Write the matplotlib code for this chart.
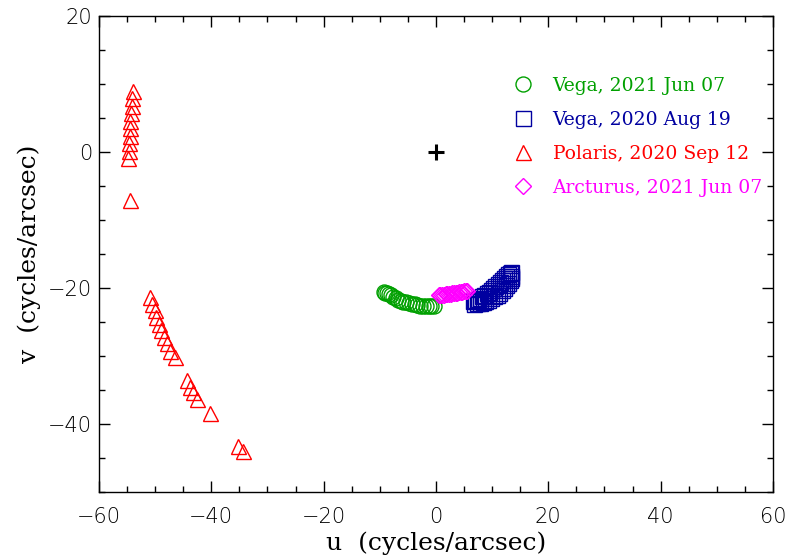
import matplotlib
matplotlib.use("Agg")
import matplotlib.pyplot as plt
from matplotlib.ticker import MultipleLocator

# uv coverage points (cycles/arcsec)
vega21_u = [-9.3, -9.0, -8.7, -8.4, -8.0, -7.6, -7.2, -6.8, -6.3, -5.8, -5.3,
            -4.8, -4.3, -3.8, -3.3, -2.8, -2.3, -1.8, -1.3, -0.8, -0.4]
vega21_v = [-20.6, -20.7, -20.8, -20.9, -21.1, -21.3, -21.5, -21.7, -21.9, -22.0, -22.1,
            -22.2, -22.3, -22.4, -22.5, -22.6, -22.6, -22.7, -22.7, -22.7, -22.7]

vega20_u = [6.6, 7.0, 7.4, 7.8, 8.2, 8.6, 9.0, 9.4, 9.8, 10.2, 10.6, 11.0, 11.4, 11.8, 12.1, 12.5, 12.8, 13.1, 13.4,
            6.8, 7.3, 7.8, 8.3, 8.8, 9.3, 9.8, 10.3, 10.8, 11.3, 11.7, 12.1, 12.5, 12.8, 13.1, 13.3, 13.4]
vega20_v = [-21.9, -21.8, -21.6, -21.4, -21.2, -21.0, -20.8, -20.6, -20.3, -20.0, -19.7, -19.4, -19.1, -18.8, -18.5, -18.2, -18.0, -17.8, -17.7,
            -22.3, -22.25, -22.2, -22.05, -21.9, -21.7, -21.5, -21.25, -21.0, -20.7, -20.3, -20.0, -19.6, -19.2, -18.8, -18.5, -18.2]

polaris_u = [-54.0, -54.1, -54.2, -54.3, -54.4, -54.5, -54.55, -54.6, -54.7, -54.8,
             -54.5,
             -50.9, -50.5, -50.1, -49.8, -49.4, -49.0, -48.5, -47.9, -47.4, -46.5,
             -44.4, -43.8, -43.2, -42.5, -40.2,
             -35.2, -34.3]
polaris_v = [9.0, 7.9, 6.8, 5.7, 4.6, 3.5, 2.4, 1.3, 0.2, -0.9,
             -7.1,
             -21.3, -22.4, -23.3, -24.3, -25.3, -26.2, -27.2, -28.1, -29.2, -30.2,
             -33.5, -34.5, -35.3, -36.3, -38.4,
             -43.2, -43.9]

arct_u = [0.5, 0.8, 1.1, 1.4, 1.7, 2.0, 2.3, 2.6, 2.9, 3.2, 3.5, 3.8, 4.1, 4.4, 4.7, 5.0, 5.3, 5.6]
arct_v = [-21.1, -21.05, -21.0, -21.0, -20.95, -20.9, -20.9, -20.85, -20.8, -20.8,
          -20.75, -20.7, -20.65, -20.6, -20.55, -20.5, -20.45, -20.4]

labels = ["Vega, 2021 Jun 07", "Vega, 2020 Aug 19", "Polaris, 2020 Sep 12", "Arcturus, 2021 Jun 07"]
colors = ["#00a000", "#0000a0", "#ff0000", "#ff00ff"]

fig = plt.figure(figsize=(7.88, 5.55), dpi=100)
ax = fig.add_axes([0.1256, 0.1135, 0.8553, 0.8577])

ax.plot(vega21_u, vega21_v, ls="none", marker="o", ms=10.8, mfc="none", mec=colors[0], mew=1.0, label=labels[0])
ax.plot(vega20_u, vega20_v, ls="none", marker="s", ms=10.8, mfc="none", mec=colors[1], mew=1.0, label=labels[1])
ax.plot(polaris_u, polaris_v, ls="none", marker="^", ms=10.8, mfc="none", mec=colors[2], mew=1.0, label=labels[2])
ax.plot(arct_u, arct_v, ls="none", marker="D", ms=8.0, mfc="none", mec=colors[3], mew=1.0, label=labels[3])
# phase centre
ax.plot([0], [0], ls="none", marker="+", ms=12, mec="black", mew=2.2)

ax.set_xlim(-60, 60)
ax.set_ylim(-50, 20)
ax.xaxis.set_major_locator(MultipleLocator(20))
ax.xaxis.set_minor_locator(MultipleLocator(5))
ax.yaxis.set_major_locator(MultipleLocator(20))
ax.yaxis.set_minor_locator(MultipleLocator(5))
ax.tick_params(which="both", direction="in", top=True, right=True, labelsize=15)
ax.tick_params(axis="x", which="major", pad=11)
ax.tick_params(axis="y", which="major", pad=5)
ax.tick_params(which="major", length=8, width=1)
ax.tick_params(which="minor", length=4, width=1)
for lab in ax.get_xticklabels() + ax.get_yticklabels():
    lab.set_fontfamily("DejaVu Sans")
    lab.set_fontweight("light")
for s in ax.spines.values():
    s.set_linewidth(1.0)

ax.set_xlabel("u  (cycles/arcsec)", family="DejaVu Serif", fontsize=18, labelpad=3)
ax.set_ylabel("v  (cycles/arcsec)", family="DejaVu Serif", fontsize=18, labelpad=5)

ax.legend(loc="upper left", bbox_to_anchor=(0.602, 0.892), frameon=False, borderpad=0,
          handlelength=1.0, handletextpad=1.05, labelspacing=0.85,
          prop={"family": "DejaVu Serif", "size": 13.5}, labelcolor="markeredgecolor")

fig.savefig("out.png", dpi=100)
